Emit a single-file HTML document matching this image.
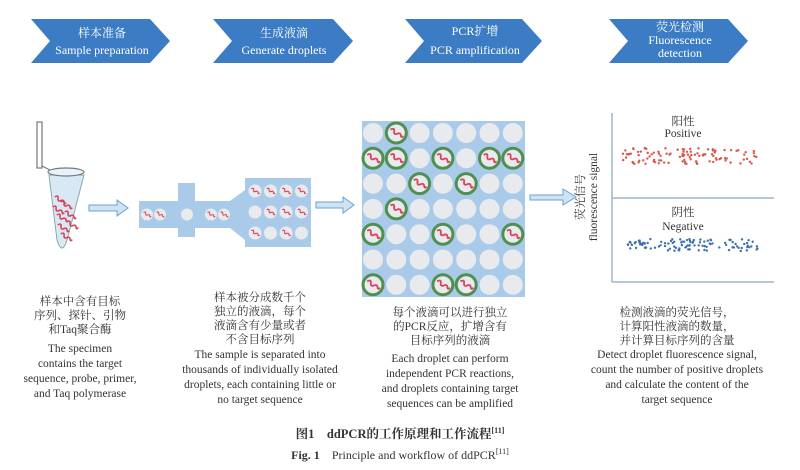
<!DOCTYPE html>
<html><head><meta charset="utf-8"><style>
html,body{margin:0;padding:0;background:#fff;width:800px;height:470px;overflow:hidden}
svg{display:block}
text{font-family:"Liberation Serif","Noto Serif CJK SC",serif;fill:#333}
.t{font-size:11.5px;text-anchor:middle}
.c{font-size:12px;text-anchor:middle;fill:#fff}
</style></head><body>
<svg id="s" width="800" height="470" viewBox="0 0 800 470" xmlns="http://www.w3.org/2000/svg">
<defs>
<g id="sq"><path d="M-6,1 q1.5,-4 3.5,-1 t3.5,0 t3.5,-1 t2,-1" fill="none" stroke="#d9435a" stroke-width="1.6" transform="rotate(40)"/></g>
</defs>
<!-- chevrons -->
<g fill="#3b7cc4">
<polygon points="31,19 150,19 170,41 150,63 31,63 50,41"/>
<polygon points="213,19 333,19 353,41 333,63 213,63 232,41"/>
<polygon points="405,19 522,19 542,41 522,63 405,63 424,41"/>
<polygon points="609,19 728,19 748,41 728,63 609,63 628,41"/>
</g>
<text class="c" x="102" y="37">样本准备</text>
<text class="c" x="102" y="54" font-size="12.5">Sample preparation</text>
<text class="c" x="284" y="37">生成液滴</text>
<text class="c" x="284" y="54">Generate droplets</text>
<text class="c" x="475" y="35">PCR扩增</text>
<text class="c" x="475" y="54">PCR amplification</text>
<text class="c" x="680" y="31">荧光检测</text>
<text class="c" x="680" y="44">Fluorescence</text>
<text class="c" x="680" y="57">detection</text>

<!-- tube -->
<rect x="37" y="122" width="5" height="46" fill="none" stroke="#777" stroke-width="1.2"/>
<path d="M42,166 L50,170" stroke="#777" fill="none"/>
<path d="M49,175 L57,240 Q62,256 67,240 L84,175 Z" fill="#d8e9f5" stroke="#8aa" stroke-width="1"/>
<ellipse cx="66" cy="172" rx="18" ry="4" fill="#e8f2fa" stroke="#777" stroke-width="1.2"/>
<g transform="translate(58,210)"><use href="#sq"/></g>
<g transform="translate(66,205)"><use href="#sq"/></g>
<g transform="translate(62,218)"><use href="#sq"/></g>
<g transform="translate(70,215)"><use href="#sq"/></g>
<g transform="translate(63,228)"><use href="#sq"/></g>
<g transform="translate(72,225)"><use href="#sq"/></g>
<g transform="translate(60,200)"><use href="#sq"/></g>
<g transform="translate(66,237)"><use href="#sq"/></g>

<!-- arrows -->
<g fill="#cfe3f3" stroke="#6aa3cf" stroke-width="1">
<polygon points="89,205 117,205 117,200 128,208 117,216 117,211 89,211"/>
<polygon points="316,202 343,202 343,197 354,205 343,213 343,208 316,208"/>
<polygon points="530,195 563,195 563,189 576,197 563,205 563,200 530,200"/>
</g>

<!-- channel -->
<g fill="#a9cbe9">
<rect x="139" y="201" width="107" height="27"/>
<rect x="178" y="183" width="17" height="54"/>
<polygon points="230,201 245,190 245,240 230,228"/>
<rect x="245" y="178" width="66" height="69"/>
</g>
<g id="chan"></g>

<!-- grid -->
<rect x="362" y="121" width="163" height="176" fill="#a9cbe9"/>
<g id="grid"></g>

<!-- chart -->
<line x1="612" y1="113" x2="612" y2="282" stroke="#9bb6cc" stroke-width="1.5"/>
<line x1="612" y1="282" x2="774" y2="282" stroke="#9bb6cc" stroke-width="1.5"/>
<line x1="612" y1="198" x2="774" y2="198" stroke="#9bb6cc" stroke-width="1.5"/>
<text class="t" x="683" y="125" font-size="11">阳性</text>
<text class="t" x="683" y="137">Positive</text>
<text class="t" x="683" y="216" font-size="11">阴性</text>
<text class="t" x="683" y="230">Negative</text>
<text class="t" transform="translate(584,197) rotate(-90)">荧光信号</text>
<text class="t" transform="translate(597,197) rotate(-90)">fluorescence signal</text>
<g id="dots"></g>

<!-- descriptions -->
<text class="t" x="80" y="305">样本中含有目标</text>
<text class="t" x="80" y="319">序列、探针、引物</text>
<text class="t" x="80" y="333">和Taq聚合酶</text>
<text class="t" x="80" y="352">The specimen</text>
<text class="t" x="80" y="367">contains the target</text>
<text class="t" x="80" y="382">sequence, probe, primer,</text>
<text class="t" x="80" y="397">and Taq polymerase</text>

<text class="t" x="260" y="301">样本被分成数千个</text>
<text class="t" x="260" y="315">独立的液滴，每个</text>
<text class="t" x="260" y="329">液滴含有少量或者</text>
<text class="t" x="260" y="343">不含目标序列</text>
<text class="t" x="260" y="358">The sample is separated into</text>
<text class="t" x="260" y="373">thousands of individually isolated</text>
<text class="t" x="260" y="388">droplets, each containing little or</text>
<text class="t" x="260" y="403">no target sequence</text>

<text class="t" x="450" y="316">每个液滴可以进行独立</text>
<text class="t" x="450" y="330">的PCR反应，扩增含有</text>
<text class="t" x="450" y="344">目标序列的液滴</text>
<text class="t" x="450" y="362">Each droplet can perform</text>
<text class="t" x="450" y="377">independent PCR reactions,</text>
<text class="t" x="450" y="392">and droplets containing target</text>
<text class="t" x="450" y="407">sequences can be amplified</text>

<text class="t" x="677" y="316">检测液滴的荧光信号，</text>
<text class="t" x="677" y="330">计算阳性液滴的数量，</text>
<text class="t" x="677" y="344">并计算目标序列的含量</text>
<text class="t" x="677" y="358">Detect droplet fluorescence signal,</text>
<text class="t" x="677" y="373">count the number of positive droplets</text>
<text class="t" x="677" y="388">and calculate the content of the</text>
<text class="t" x="677" y="403">target sequence</text>

<text x="400" y="438" text-anchor="middle" font-size="12.5" font-weight="bold" fill="#222">图1　ddPCR的工作原理和工作流程<tspan font-size="8" dy="-5">[11]</tspan></text>
<text x="400" y="459" text-anchor="middle" font-size="12" fill="#222"><tspan font-weight="bold">Fig. 1</tspan>　Principle and workflow of ddPCR<tspan font-size="8" dy="-5">[11]</tspan></text>
</svg>
<script>
var NS="http://www.w3.org/2000/svg";
function el(p,t,a){var e=document.createElementNS(NS,t);for(var k in a)e.setAttribute(k,a[k]);p.appendChild(e);return e;}
function drop(p,x,y,r,pos,ring){
 el(p,"circle",{cx:x,cy:y,r:r,fill:"#e8eaee",stroke:ring?"#4f8f4f":"none","stroke-width":ring?3:0});
 if(pos){var g=el(p,"g",{transform:"translate("+x+","+y+") scale("+(r/9)+")"});el(g,"use",{href:"#sq"});}
}
var grid=document.getElementById("grid");
var P=[[0,1,0,0,0,0,0],[1,1,0,1,0,1,1],[0,0,1,0,1,0,0],[0,1,0,0,0,0,0],[1,0,0,1,0,0,1],[0,0,0,0,0,0,0],[1,0,0,1,1,0,0]];
for(var r=0;r<7;r++)for(var c=0;c<7;c++){var x=373+c*23.3,y=133+r*25.3;drop(grid,x,y,10,P[r][c],P[r][c]);}
var ch=document.getElementById("chan");
[[147,1],[160,1],[187,0],[211,1],[224,1]].forEach(function(d){drop(ch,d[0],214.5,6,d[1],0);});
var B=[[1,1,1,1],[0,1,1,1],[1,0,1,0]];
for(var r=0;r<3;r++)for(var c=0;c<4;c++)drop(ch,255+c*15.5,191+r*21,6.5,B[r][c],0);
var dots=document.getElementById("dots"),s=7;
function rnd(){s=(s*9301+49297)%233280;return s/233280;}
for(var i=0;i<110;i++)el(dots,"circle",{cx:622+rnd()*138,cy:148+rnd()*16,r:1.2,fill:"#d8574a"});
for(var i=0;i<110;i++)el(dots,"circle",{cx:628+rnd()*134,cy:239+rnd()*12,r:1.2,fill:"#3d6fb3"});
</script>
</body></html>
